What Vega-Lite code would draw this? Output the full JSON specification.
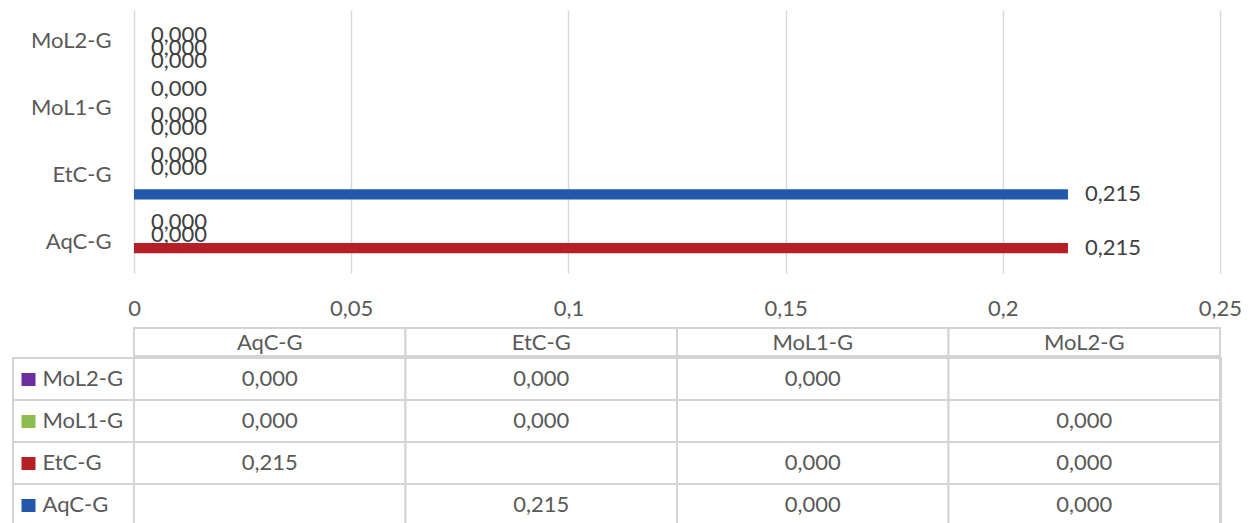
{
  "$schema": "https://vega.github.io/schema/vega-lite/v6.json",
  "padding": {"left": 12, "top": 10, "right": 5, "bottom": 0},
  "config": {
    "locale": {"number": {"decimal": ",", "thousands": ".", "grouping": [3], "currency": ["", " €"]}},
    "view": {"stroke": null},
    "font": "Lato"
  },
  "datasets": {
    "vals": [
      {"category": "AqC-G", "series": "AqC-G", "value": null},
      {"category": "AqC-G", "series": "EtC-G", "value": 0.215},
      {"category": "AqC-G", "series": "MoL1-G", "value": 0},
      {"category": "AqC-G", "series": "MoL2-G", "value": 0},
      {"category": "EtC-G", "series": "AqC-G", "value": 0.215},
      {"category": "EtC-G", "series": "EtC-G", "value": null},
      {"category": "EtC-G", "series": "MoL1-G", "value": 0},
      {"category": "EtC-G", "series": "MoL2-G", "value": 0},
      {"category": "MoL1-G", "series": "AqC-G", "value": 0},
      {"category": "MoL1-G", "series": "EtC-G", "value": 0},
      {"category": "MoL1-G", "series": "MoL1-G", "value": null},
      {"category": "MoL1-G", "series": "MoL2-G", "value": 0},
      {"category": "MoL2-G", "series": "AqC-G", "value": 0},
      {"category": "MoL2-G", "series": "EtC-G", "value": 0},
      {"category": "MoL2-G", "series": "MoL1-G", "value": 0},
      {"category": "MoL2-G", "series": "MoL2-G", "value": null}
    ],
    "cats": [{"category": "AqC-G"}, {"category": "EtC-G"}, {"category": "MoL1-G"}, {"category": "MoL2-G"}],
    "sers": [{"series": "MoL2-G"}, {"series": "MoL1-G"}, {"series": "EtC-G"}, {"series": "AqC-G"}]
  },
  "spacing": 0,
  "vconcat": [
    {
      "width": 1208,
      "height": 263,
      "data": {"name": "vals"},
      "transform": [{"filter": "isValid(datum.value)"}],
      "encoding": {
        "y": {
          "field": "category", "type": "nominal",
          "sort": ["MoL2-G", "MoL1-G", "EtC-G", "AqC-G"],
          "scale": {"paddingInner": 0.26, "paddingOuter": 0.1},
          "axis": {"title": null, "domain": false, "ticks": false, "offset": -121, "labelPadding": 23, "labelFontSize": 22, "labelColor": "#595959", "labelFont": "Lato"}
        },
        "yOffset": {
          "field": "series", "type": "nominal",
          "sort": ["MoL2-G", "MoL1-G", "EtC-G", "AqC-G"],
          "scale": {"paddingInner": 0.2, "paddingOuter": 0}
        },
        "x": {
          "field": "value", "type": "quantitative",
          "scale": {"domain": [0, 0.25], "nice": false, "range": [121, 1207]},
          "axis": {"title": null, "values": [0, 0.05, 0.1, 0.15, 0.2, 0.25], "format": ".2~f", "domain": false, "ticks": false, "grid": true, "gridColor": "#d9d9d9", "gridWidth": 1.5, "labelPadding": 25, "labelFontSize": 22, "labelColor": "#595959", "labelFont": "Lato", "labelFlush": false, "minExtent": 54, "maxExtent": 54}
        }
      },
      "layer": [
        {
          "mark": {"type": "bar"},
          "encoding": {
            "color": {
              "field": "series", "type": "nominal",
              "scale": {"domain": ["AqC-G", "EtC-G", "MoL1-G", "MoL2-G"], "range": ["#2258ac", "#b42025", "#8ebd4d", "#6b2fa0"]},
              "legend": null
            }
          }
        },
        {
          "mark": {"type": "text", "align": "left", "baseline": "middle", "dx": 17, "fontSize": 22, "color": "#404040", "font": "Lato"},
          "encoding": {"text": {"field": "value", "type": "quantitative", "format": ".3f"}}
        }
      ]
    },
    {
      "width": 1208,
      "height": 28,
      "data": {"name": "cats"},
      "encoding": {
        "x": {"field": "category", "type": "nominal", "sort": ["AqC-G", "EtC-G", "MoL1-G", "MoL2-G"], "scale": {"paddingInner": 0, "paddingOuter": 0, "range": [121, 1207]}, "axis": null}
      },
      "layer": [
        {"mark": {"type": "rect", "fill": "white", "stroke": "#d4d4d4", "strokeWidth": 2}},
        {
          "mark": {"type": "text", "baseline": "middle", "dy": 1, "fontSize": 22, "color": "#595959", "font": "Lato"},
          "encoding": {"text": {"field": "category", "type": "nominal"}}
        }
      ]
    },
    {
      "width": 1208,
      "height": 168,
      "encoding": {
        "y": {
          "field": "series", "type": "nominal",
          "sort": ["MoL2-G", "MoL1-G", "EtC-G", "AqC-G"],
          "scale": {"paddingInner": 0, "paddingOuter": 0},
          "axis": {
            "title": null, "domain": false, "ticks": true, "offset": -22,
            "tickSize": 14, "tickWidth": 13, "tickCap": "butt",
            "tickColor": {
              "condition": [
                {"test": "datum.value === 'MoL2-G'", "value": "#6b2fa0"},
                {"test": "datum.value === 'MoL1-G'", "value": "#8ebd4d"},
                {"test": "datum.value === 'EtC-G'", "value": "#b42025"}
              ],
              "value": "#2258ac"
            },
            "labelAlign": "left", "labelBaseline": "middle", "labelPadding": -21,
            "labelFontSize": 22, "labelColor": "#595959", "labelFont": "Lato", "zindex": 2
          }
        }
      },
      "layer": [
        {
          "data": {"name": "sers"},
          "mark": {"type": "rect", "fill": "white", "stroke": "#d4d4d4", "strokeWidth": 2}
        },
        {
          "data": {"name": "vals"},
          "encoding": {
            "x": {"field": "category", "type": "nominal", "sort": ["AqC-G", "EtC-G", "MoL1-G", "MoL2-G"], "scale": {"paddingInner": 0, "paddingOuter": 0, "range": [121, 1207]}, "axis": null}
          },
          "layer": [
            {"mark": {"type": "rect", "fill": "white", "stroke": "#d4d4d4", "strokeWidth": 2}},
            {
              "transform": [{"filter": "isValid(datum.value)"}],
              "mark": {"type": "text", "baseline": "middle", "fontSize": 22, "color": "#595959", "font": "Lato"},
              "encoding": {"text": {"field": "value", "type": "quantitative", "format": ".3f"}}
            }
          ]
        }
      ]
    }
  ]
}
